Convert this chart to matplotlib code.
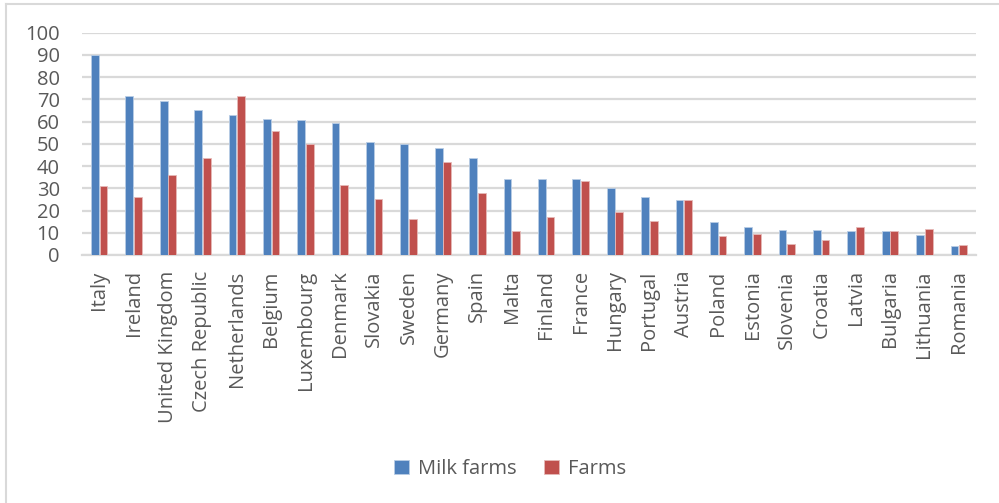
import matplotlib
matplotlib.use('Agg')
import matplotlib.pyplot as plt
from matplotlib.lines import Line2D
import numpy as np

#--categories and values
countries=['Italy','Ireland','United Kingdom','Czech Republic','Netherlands','Belgium',
           'Luxembourg','Denmark','Slovakia','Sweden','Germany','Spain','Malta','Finland',
           'France','Hungary','Portugal','Austria','Poland','Estonia','Slovenia','Croatia',
           'Latvia','Bulgaria','Lithuania','Romania']
milk_farms=[90.1,71.3,69.2,65.1,62.7,61.2,60.6,59.4,50.6,49.7,48.2,43.4,34.3,34.1,
            34.1,30.2,26.0,24.6,14.7,12.4,11.4,11.1,10.8,10.6,8.8,4.0]
farms=[31.0,25.9,35.9,43.4,71.3,55.8,49.9,31.4,25.1,16.2,41.9,27.7,10.6,17.2,
       33.1,19.3,15.1,24.6,8.4,9.6,4.8,6.7,12.4,10.6,11.5,4.5]
yticks=list(range(0,101,10))

plt.rcParams['font.family']=['Open Sans','DejaVu Sans']
txtcol='#595959'
W,H=999,503
fig=plt.figure(figsize=(W/100,H/100),dpi=100)
ax=fig.add_axes([82/W,1-255/H,(976-82)/W,(255-32.5)/H])

x=np.arange(len(countries))
bw=0.225
ax.bar(x-0.125,milk_farms,bw,color='#4F81BD',edgecolor='#B9CDE5',linewidth=0.6,label='Milk farms',zorder=3)
ax.bar(x+0.125,farms,bw,color='#C0504D',edgecolor='#E6B9B8',linewidth=0.6,label='Farms',zorder=3)

ax.set_xlim(-0.5,len(countries)-0.5)
ax.set_ylim(0,100)
ax.set_yticks(yticks)
ax.set_xticks(x)
ax.set_xticklabels(countries,rotation=90,fontsize=14.5,color=txtcol)
ax.tick_params(axis='y',length=0,pad=16,labelsize=14.5,labelcolor=txtcol)
ax.tick_params(axis='x',length=0,pad=11)
ax.grid(axis='y',color='#D9D9D9',linewidth=1.6,zorder=0)
for s in ['top','right','left']:
    ax.spines[s].set_visible(False)
ax.spines['bottom'].set_color('#D9D9D9')
ax.spines['bottom'].set_linewidth(1.6)

leg=fig.legend(loc='center',bbox_to_anchor=(510/W,1-469/H),ncol=2,frameon=False,
               fontsize=14.5,handlelength=0.75,handleheight=0.75,columnspacing=1.4,handletextpad=0.4)
for t in leg.get_texts():
    t.set_color(txtcol)

#--chart area border (left and top edges visible)
fig.add_artist(Line2D([5.5/W,5.5/W],[0,1-4/H],color='#D9D9D9',linewidth=1.5))
fig.add_artist(Line2D([5.5/W,1],[1-4/H,1-4/H],color='#D9D9D9',linewidth=1.5))

fig.savefig('out.png',dpi=100)
